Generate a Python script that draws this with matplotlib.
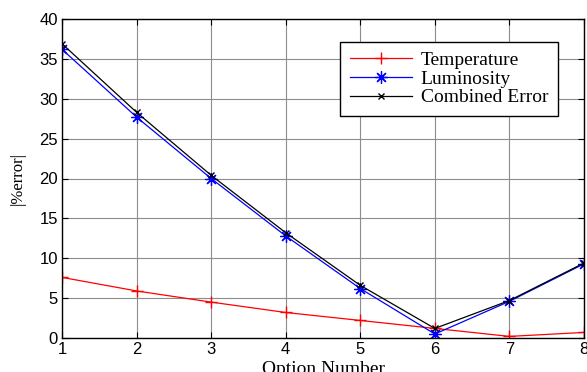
import matplotlib
matplotlib.use("Agg")

import matplotlib.pyplot as plt

# Values
options = [1, 2, 3, 4, 5, 6, 7, 8]
temperature = [7.6, 5.9, 4.5, 3.2, 2.2, 1.2, 0.2, 0.7]
luminosity = [36.2, 27.7, 20.0, 12.8, 6.2, 0.5, 4.6, 9.3]
combined = [36.9, 28.3, 20.4, 13.2, 6.6, 1.2, 4.7, 9.4]
y_ticks = [0, 5, 10, 15, 20, 25, 30, 35, 40]

fig = plt.figure(figsize=(5.87, 3.72), dpi=100)
ax = fig.add_axes([62 / 587, 1 - 338 / 372, (584 - 62) / 587, (338 - 19) / 372])

ax.plot(options, temperature, color="red", marker="+", markersize=9,
        linewidth=0.9, label="Temperature")
ax.plot(options, luminosity, color="blue", marker=(8, 2, 0), markersize=9,
        markeredgewidth=0.9, linewidth=0.9, label="Luminosity")
ax.plot(options, combined, color="black", marker="x", markersize=5,
        linewidth=0.9, label="Combined Error")

ax.set_xlim(1, 8)
ax.set_ylim(0, 40)
ax.set_xticks(options)
ax.set_yticks(y_ticks)
ax.grid(True, color="0.55", linewidth=0.8)
ax.set_axisbelow(True)

ax.tick_params(direction="in", length=4, width=0.8, top=True, right=True,
               labelsize=12, pad=3)
for lab in ax.get_xticklabels() + ax.get_yticklabels():
    lab.set_family("Liberation Sans")
for sp in ax.spines.values():
    sp.set_linewidth(1.0)

ax.set_xlabel("Option Number", family="Liberation Serif", fontsize=14, labelpad=3)
ax.set_ylabel("|%error|", family="Liberation Serif", fontsize=12, labelpad=10)

leg = ax.legend(loc="upper right", bbox_to_anchor=(0.950, 0.928),
                prop={"family": "Liberation Serif", "size": 14},
                frameon=True, fancybox=False, edgecolor="black",
                framealpha=1, handlelength=3.2, handletextpad=0.45,
                labelspacing=0.05, borderpad=0.5, borderaxespad=0)
leg.get_frame().set_linewidth(1.0)

fig.savefig("out.png", dpi=100)
